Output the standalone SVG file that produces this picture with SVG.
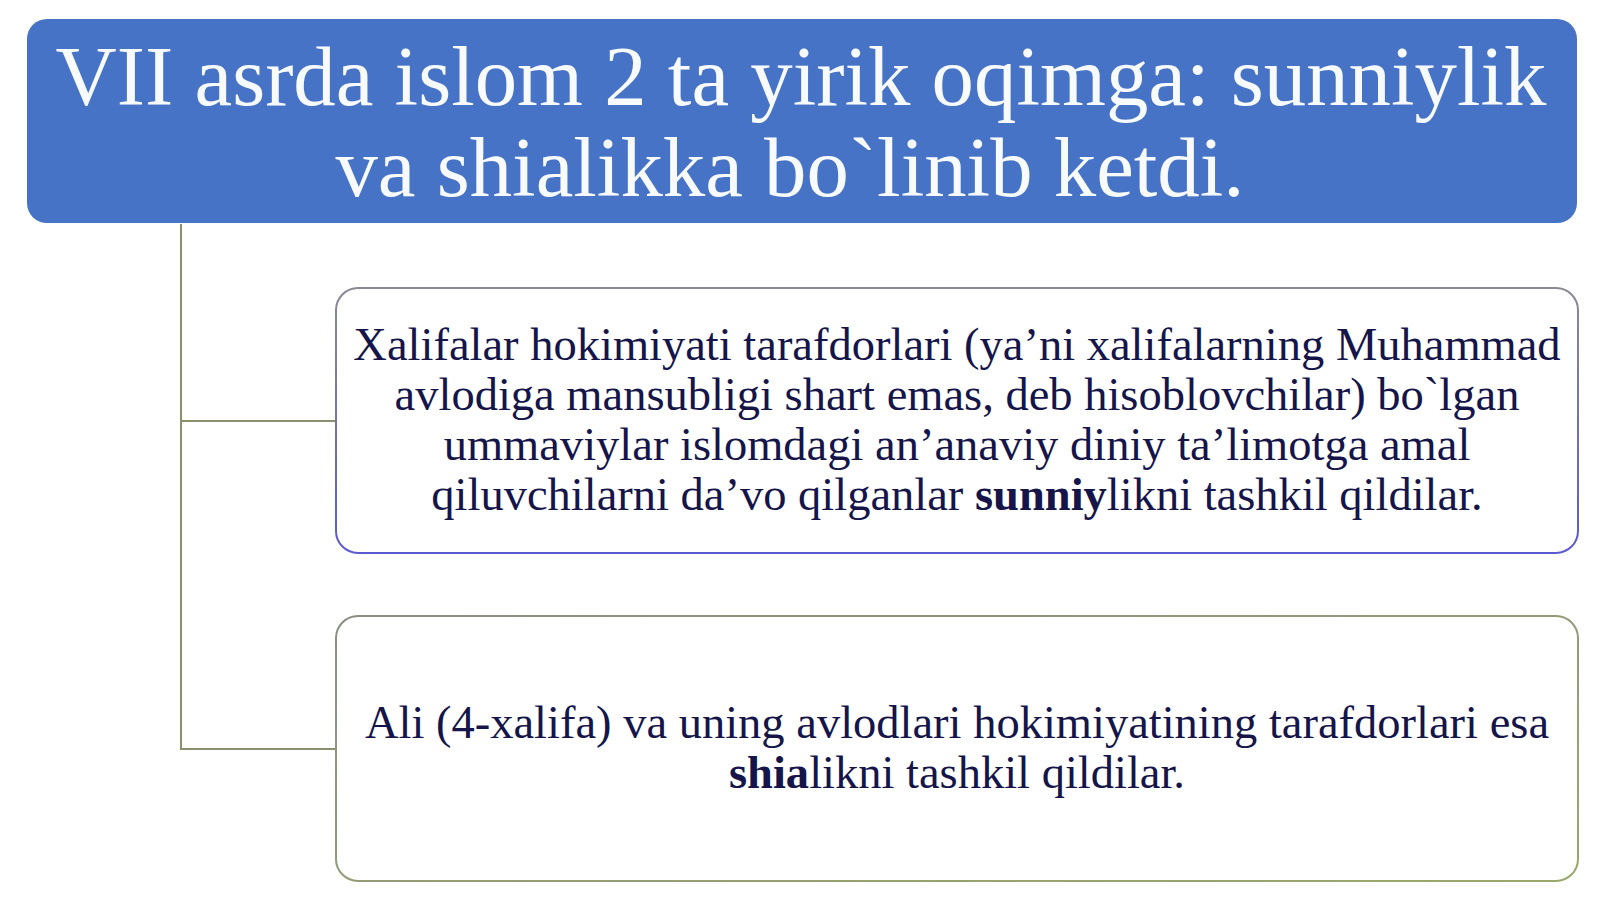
<svg xmlns="http://www.w3.org/2000/svg" width="1600" height="899" viewBox="0 0 1600 899">
<defs>
<linearGradient id="g1" x1="0" y1="0" x2="0" y2="1">
<stop offset="0" stop-color="#8a8a96"/>
<stop offset="1" stop-color="#5a5ad0"/>
</linearGradient>
<linearGradient id="g2" x1="0" y1="0" x2="1" y2="1">
<stop offset="0" stop-color="#8c8f84"/>
<stop offset="1" stop-color="#9aa86a"/>
</linearGradient>
<style>
.t{font-family:"Liberation Serif","Times New Roman",serif;text-anchor:middle}
.h{fill:#f7faff;font-size:84.8px}
.b{fill:#15154a;font-size:46.5px}
.k{font-weight:bold}
.c{fill:none;stroke:#8b8f70;stroke-width:2}
</style>
</defs>
<rect width="1600" height="899" fill="#ffffff"/>
<g id="connectors">
<path class="c" d="M181 224 V749 H336 M181 421 H336"/>
</g>
<g id="header">
<rect x="27" y="19" width="1550" height="204" rx="20" fill="#4673c6"/>
<text class="t h" x="801" y="105">VII asrda islom 2 ta yirik oqimga: sunniylik</text>
<text class="t h" x="790" y="196">va shialikka bo`linib ketdi.</text>
</g>
<g id="box1">
<rect x="336" y="288" width="1242" height="265" rx="22" fill="#ffffff" stroke="url(#g1)" stroke-width="2"/>
<text class="t b" x="957" y="360">Xalifalar hokimiyati tarafdorlari (ya’ni xalifalarning Muhammad</text>
<text class="t b" x="957" y="410">avlodiga mansubligi shart emas, deb hisoblovchilar) bo`lgan</text>
<text class="t b" x="957" y="460">ummaviylar islomdagi an’anaviy diniy ta’limotga amal</text>
<text class="t b" x="957" y="510">qiluvchilarni da’vo qilganlar <tspan class="k">sunniy</tspan>likni tashkil qildilar.</text>
</g>
<g id="box2">
<rect x="336" y="616" width="1242" height="265" rx="22" fill="#ffffff" stroke="url(#g2)" stroke-width="2"/>
<text class="t b" x="957" y="738">Ali (4-xalifa) va uning avlodlari hokimiyatining tarafdorlari esa</text>
<text class="t b" x="957" y="788"><tspan class="k">shia</tspan>likni tashkil qildilar.</text>
</g>
</svg>
